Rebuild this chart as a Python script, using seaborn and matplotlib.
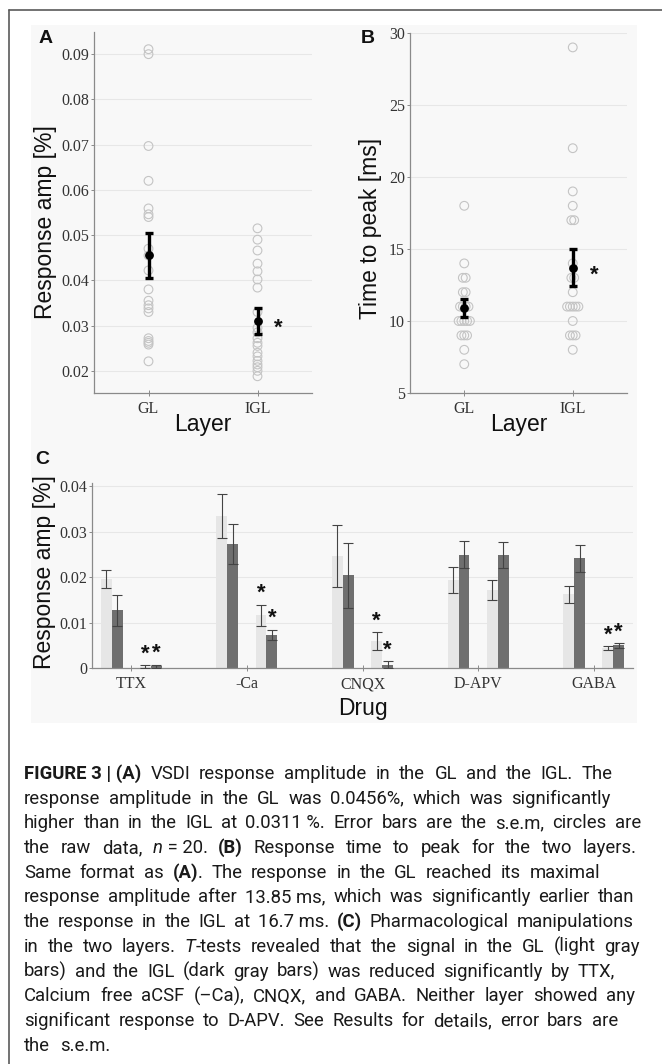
import numpy as np
import pandas as pd
import matplotlib
matplotlib.use("Agg")
import matplotlib.pyplot as plt
import seaborn as sns
from matplotlib.patches import Rectangle
from matplotlib.lines import Line2D
from matplotlib import font_manager as fm

# ------------------------------------------------------------------ data
layers = ["GL", "IGL"]

# Panel A: response amplitude [%], raw data (n = 20 per layer)
amp_gl = [0.0911, 0.0900, 0.0697, 0.0620, 0.0559, 0.0546, 0.0540, 0.0470, 0.0455, 0.0422,
          0.0380, 0.0355, 0.0345, 0.0338, 0.0330, 0.0272, 0.0266, 0.0262, 0.0258, 0.0221]
amp_igl = [0.0515, 0.0490, 0.0466, 0.0437, 0.0420, 0.0402, 0.0384, 0.0330, 0.0295, 0.0285,
           0.0272, 0.0262, 0.0255, 0.0240, 0.0232, 0.0222, 0.0214, 0.0208, 0.0200, 0.0188]
amp_mean = [0.0455, 0.0311]
amp_sem = [0.0049, 0.0029]
amp_sig = ["", "*"]

# Panel B: time to peak [ms], raw data
ttp_gl = [18, 14, 13, 13, 12, 12, 11, 11, 11, 11, 10, 10, 10, 10, 10, 9, 9, 9, 8, 7]
ttp_igl = [29, 22, 19, 18, 17, 17, 14, 13, 13, 12, 11, 11, 11, 11, 11, 10, 9, 9, 9, 8]
ttp_mean = [10.9, 13.7]
ttp_sem = [0.65, 1.3]
ttp_sig = ["", "*"]

# Panel C: pharmacology, mean and s.e.m. per drug
drugs = ["TTX", "-Ca", "CNQX", "D-APV", "GABA"]
series = ["GL control", "IGL control", "GL drug", "IGL drug"]
gl_ctrl_mean = [0.0196, 0.0334, 0.0246, 0.0193, 0.0162]
gl_ctrl_sem = [0.0020, 0.0048, 0.0068, 0.0029, 0.0018]
igl_ctrl_mean = [0.0127, 0.0272, 0.0204, 0.0249, 0.0241]
igl_ctrl_sem = [0.0034, 0.0044, 0.0072, 0.0030, 0.0030]
gl_drug_mean = [0.0003, 0.0116, 0.0059, 0.0171, 0.0044]
gl_drug_sem = [0.0003, 0.0023, 0.0020, 0.0022, 0.0004]
igl_drug_mean = [0.0004, 0.0073, 0.0007, 0.0248, 0.0050]
igl_drug_sem = [0.0003, 0.0011, 0.0008, 0.0029, 0.0005]
sig_gl_drug = [True, True, True, False, True]
sig_igl_drug = [True, True, True, False, True]

amp_ticks = [0.02, 0.03, 0.04, 0.05, 0.06, 0.07, 0.08, 0.09]
ttp_ticks = [5, 10, 15, 20, 25, 30]
c_ticks = [0, 0.01, 0.02, 0.03, 0.04]
c_tick_labels = ["0", "0.01", "0.02", "0.03", "0.04"]

caption_lines = [
    "^FIGURE~3~|~(A)^ VSDI response amplitude in the GL and the IGL. The",
    "response amplitude in the GL was 0.0456%, which was significantly",
    "higher than in the IGL at 0.0311~%. Error bars are the s.e.m, circles are",
    "the raw data, _n_~=~20. ^(B)^ Response time to peak for the two layers.",
    "Same format as ^(A)^. The response in the GL reached its maximal",
    "response amplitude after 13.85~ms, which was significantly earlier than",
    "the response in the IGL at 16.7~ms. ^(C)^ Pharmacological manipulations",
    "in the two layers. _T_-tests revealed that the signal in the GL (light gray",
    "bars) and the IGL (dark gray bars) was reduced significantly by TTX,",
    "Calcium free aCSF (\u2013Ca), CNQX, and GABA. Neither layer showed any",
    "significant response to D-APV. See Results for details, error bars are",
    "the s.e.m.",
]
caption_right = [613, 611, 641, 637, 600, 634, 634, 640, 615, 635, 618, 110]

# ------------------------------------------------------------------ style
W, H = 662, 1064
sns.set_style("white")
plt.rcParams["font.family"] = ["Liberation Sans", "DejaVu Sans"]
SERIF = "Liberation Serif"
BG = "#f8f8f8"
GRID = "#e7e7e7"
SPINE = "#8a8a8a"
CIRC = "#c4c4c4"
LIGHT = "#e6e6e6"
DARK = "#6f6f6f"
LABEL_FS = 16.5
TICK_FS = 11.5
STAR_FS = 16


def font_ok(name):
    try:
        fm.findfont(fm.FontProperties(family=name), fallback_to_default=False)
        return True
    except Exception:
        return False


CAP_FONT = "Roboto" if font_ok("Roboto") else "Liberation Sans"

fig = plt.figure(figsize=(W / 100, H / 100), dpi=100)
fig.patch.set_facecolor("white")


def rect(l, t, r, b):
    return [l / W, 1 - b / H, (r - l) / W, (b - t) / H]


fig.patches.append(Rectangle((31 / W, 1 - 723 / H), (637 - 31) / W, (723 - 25) / H,
                             transform=fig.transFigure, facecolor=BG, edgecolor="none", zorder=-10))
fig.add_artist(Line2D([9 / W, 1.0], [1 - 10 / H, 1 - 10 / H], transform=fig.transFigure,
                      color="#5a5a5a", lw=1.2))
fig.add_artist(Line2D([9 / W, 9 / W], [0.0, 1 - 10 / H], transform=fig.transFigure,
                      color="#5a5a5a", lw=1.2))

axA = fig.add_axes(rect(94, 32, 312, 393))
axB = fig.add_axes(rect(410, 33, 627, 393))
axC = fig.add_axes(rect(92, 483, 633, 668))


def style_axes(ax):
    ax.set_facecolor("none")
    for s in ["top", "right"]:
        ax.spines[s].set_visible(False)
    for s in ["left", "bottom"]:
        ax.spines[s].set_color(SPINE)
        ax.spines[s].set_linewidth(0.9)
    ax.yaxis.grid(True, color=GRID, lw=0.8)
    ax.xaxis.grid(False)
    ax.set_axisbelow(True)
    ax.tick_params(axis="y", direction="out", length=2.5, width=0.7, color=SPINE, pad=1,
                   labelsize=TICK_FS, labelcolor="#333333", labelfontfamily=SERIF, left=True)
    ax.tick_params(axis="x", direction="inout", length=4, width=0.7, color=SPINE, pad=4,
                   labelsize=TICK_FS, labelcolor="#333333", labelfontfamily=SERIF, bottom=True)


def set_labels(ax, xl, yl, xpos, ypos):
    ax.set_xlabel(xl, fontsize=LABEL_FS, color="#111111")
    ax.set_ylabel(yl, fontsize=LABEL_FS, color="#111111")
    ax.xaxis.label.set_va("center")
    ax.yaxis.label.set_va("center")
    ax.xaxis.set_label_coords(*xpos)
    ax.yaxis.set_label_coords(*ypos)


def star(ax, x, y, fs=STAR_FS):
    ax.annotate("*", (x, y), xytext=(0, -0.58 * fs), textcoords="offset points",
                ha="center", va="baseline", fontsize=fs, fontweight="bold", color="#111111",
                zorder=6)


def spread_offsets(vals, step):
    vals = np.asarray(vals, float)
    off = np.zeros_like(vals)
    for v in np.unique(vals):
        idx = np.where(vals == v)[0]
        k = len(idx)
        off[idx] = (np.arange(k) - (k - 1) / 2) * step
    return off


# ------------------------------------------------------------------ panel A
dfA = pd.DataFrame({"Layer": ["GL"] * len(amp_gl) + ["IGL"] * len(amp_igl),
                    "amp": amp_gl + amp_igl})
sns.stripplot(data=dfA, x="Layer", y="amp", order=layers, jitter=False, size=6.3,
              color=CIRC, ax=axA, zorder=3)
for c in axA.collections:
    c.set_facecolor("none")
    c.set_edgecolor(CIRC)
    c.set_linewidth(0.8)
axA.errorbar(range(len(layers)), amp_mean, yerr=amp_sem, fmt="o", color="black", ms=5.3,
             elinewidth=2.4, capsize=3, capthick=2.4, zorder=5)
for i, s in enumerate(amp_sig):
    if s:
        star(axA, i + 0.194, amp_mean[i])
axA.set_xlim(-0.5, 1.5)
axA.set_ylim(0.0151, 0.0949)
axA.set_yticks(amp_ticks)
axA.set_yticklabels([f"{t:.2f}" for t in amp_ticks])
style_axes(axA)
set_labels(axA, "Layer", "Response amp [%]", (0.5, (393 - 425) / 361), ((45 - 94) / 218, (393 - 222) / 361))

# ------------------------------------------------------------------ panel B
ttp_all = ttp_gl + ttp_igl
cat_idx = np.array([0] * len(ttp_gl) + [1] * len(ttp_igl), float)
xpos = cat_idx.copy()
xpos[:len(ttp_gl)] += spread_offsets(ttp_gl, 0.026)
xpos[len(ttp_gl):] += spread_offsets(ttp_igl, 0.026)
dfB = pd.DataFrame({"x": xpos, "ttp": ttp_all})
sns.scatterplot(data=dfB, x="x", y="ttp", s=6.3 ** 2, color=CIRC, ax=axB, zorder=3, legend=False)
for c in axB.collections:
    c.set_facecolor("none")
    c.set_edgecolor(CIRC)
    c.set_linewidth(0.8)
axB.errorbar(range(len(layers)), ttp_mean, yerr=ttp_sem, fmt="o", color="black", ms=5.3,
             elinewidth=2.4, capsize=3, capthick=2.4, zorder=5)
for i, s in enumerate(ttp_sig):
    if s:
        star(axB, i + 0.194, ttp_mean[i])
axB.set_xlim(-0.5, 1.5)
axB.set_xticks(range(len(layers)))
axB.set_xticklabels(layers)
axB.set_ylim(5, 30)
axB.set_yticks(ttp_ticks)
axB.set_yticklabels([str(t) for t in ttp_ticks])
style_axes(axB)
set_labels(axB, "Layer", "Time to peak [ms]", (0.5, (393 - 425) / 360), ((371 - 410) / 217, (393 - 228) / 360))

# ------------------------------------------------------------------ panel C
bar_offsets = [-0.217, -0.122, 0.122, 0.217]
means_c = [gl_ctrl_mean, igl_ctrl_mean, gl_drug_mean, igl_drug_mean]
sems_c = [gl_ctrl_sem, igl_ctrl_sem, gl_drug_sem, igl_drug_sem]
rows = []
for j, s in enumerate(series):
    for i, d in enumerate(drugs):
        rows.append(dict(drug=d, series=s, pos=i + bar_offsets[j], amp=means_c[j][i], sem=sems_c[j][i]))
dfC = pd.DataFrame(rows)
palette = {series[0]: LIGHT, series[1]: DARK, series[2]: LIGHT, series[3]: DARK}
sns.barplot(data=dfC, x="pos", y="amp", hue="series", hue_order=series, palette=palette,
            native_scale=True, dodge=False, width=1.0, errorbar=None, saturation=1,
            legend=False, linewidth=0, ax=axC, zorder=2)
axC.errorbar(dfC["pos"], dfC["amp"], yerr=dfC["sem"], fmt="none", ecolor="#444444",
             elinewidth=0.8, capsize=3.5, capthick=0.8, zorder=4)
STAR_GAP = 0.0041
for j, sig in ((2, sig_gl_drug), (3, sig_igl_drug)):
    for i, flag in enumerate(sig):
        if flag:
            star(axC, i + bar_offsets[j], means_c[j][i] + sems_c[j][i] + STAR_GAP)
axC.set_xlim(-0.34, 4.34)
axC.set_xticks(range(len(drugs)))
axC.set_xticklabels(drugs)
axC.set_ylim(0, 0.0407)
axC.set_yticks(c_ticks)
axC.set_yticklabels(c_tick_labels)
style_axes(axC)
set_labels(axC, "Drug", "Response amp [%]", (0.5, (668 - 708) / 185), ((45 - 92) / 541, (668 - 572) / 185))

# panel letters
for letter, (x, yb) in {"A": (45.7, 43), "B": (368, 43), "C": (42, 464)}.items():
    fig.text(x / W, 1 - yb / H, letter, fontsize=14, fontweight="bold", ha="center", va="baseline",
             color="#111111")

# ------------------------------------------------------------------ caption
renderer = fig.canvas.get_renderer()


def parse_token(tok):
    segs, bold, ital, cur = [], False, False, ""
    for ch in tok:
        if ch in "^_":
            if cur:
                segs.append((cur, bold, ital))
                cur = ""
            if ch == "^":
                bold = not bold
            else:
                ital = not ital
        elif ch == "~":
            cur += " "
        else:
            cur += ch
    if cur:
        segs.append((cur, bold, ital))
    return segs


def make_text(s, size, b, it):
    return fig.text(0, 0, s, fontsize=size, family=CAP_FONT,
                    fontweight="bold" if b else "normal",
                    fontstyle="italic" if it else "normal",
                    ha="left", va="baseline", color="#1a1a1a")


CAP_X0 = 24
tokens_all = [[parse_token(t) for t in line.split(" ")] for line in caption_lines]


def natural_widths(size):
    out = []
    for toks in tokens_all:
        tot = 0.0
        for tok in toks:
            for (s, b, it) in tok:
                t = make_text(s, size, b, it)
                tot += t.get_window_extent(renderer).width
                t.remove()
        out.append(tot)
    return out


cap_size = 13.3
for _ in range(12):
    nw = natural_widths(cap_size)
    ok = all(len(toks) < 2 or (r - CAP_X0 - w) / (len(toks) - 1) >= 4.0
             for toks, r, w in zip(tokens_all, caption_right, nw))
    if ok:
        break
    cap_size -= 0.3

for li, (toks, right) in enumerate(zip(tokens_all, caption_right)):
    baseline = 779 + li * 24.7
    texts = []
    for tok in toks:
        tt = []
        for (s, b, it) in tok:
            t = make_text(s, cap_size, b, it)
            ext = t.get_window_extent(renderer)
            tt.append((t, ext.x0, ext.width))
        texts.append(tt)
    total = sum(w for tt in texts for (_, _, w) in tt)
    gap = (right - CAP_X0 - total) / max(len(texts) - 1, 1)
    x = CAP_X0
    for tt in texts:
        for (t, x0, w) in tt:
            # shift so that the drawn extent starts at x
            t.set_position(((x - x0) / W, 1 - baseline / H))
            x += w
        x += gap

fig.savefig("out.png", dpi=100, facecolor="white")
